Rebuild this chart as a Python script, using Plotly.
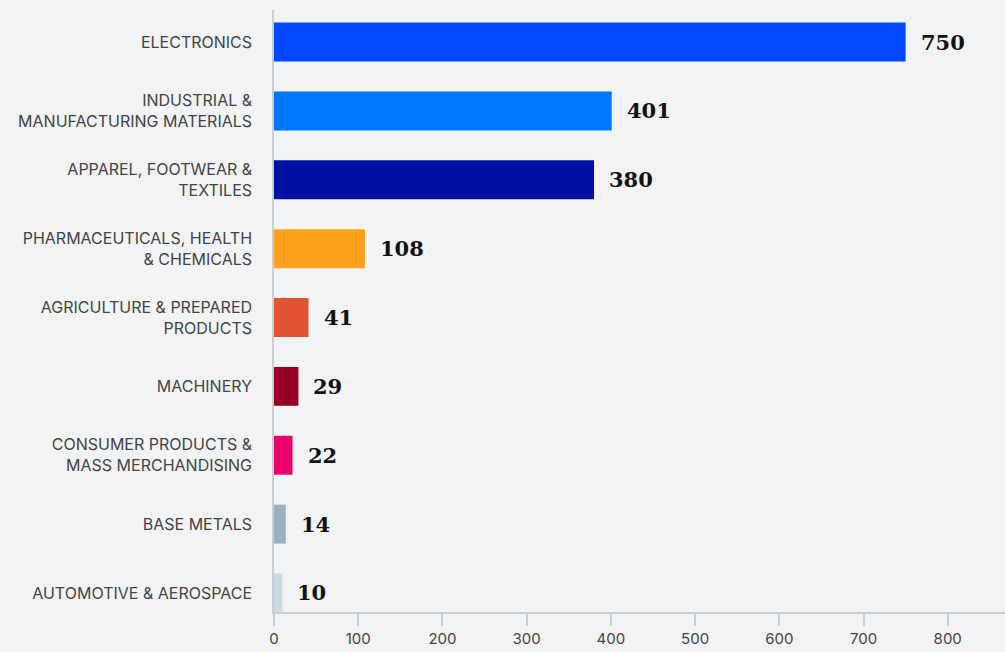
import plotly.graph_objects as go

categories = [
    "ELECTRONICS",
    "INDUSTRIAL &<br>MANUFACTURING MATERIALS",
    "APPAREL, FOOTWEAR &<br>TEXTILES",
    "PHARMACEUTICALS, HEALTH<br>& CHEMICALS",
    "AGRICULTURE & PREPARED<br>PRODUCTS",
    "MACHINERY",
    "CONSUMER PRODUCTS &<br>MASS MERCHANDISING",
    "BASE METALS",
    "AUTOMOTIVE & AEROSPACE",
]
values = [750, 401, 380, 108, 41, 29, 22, 14, 10]
colors = [
    "#0047FF", "#0077FF", "#0010A0", "#FFA01A", "#E05432",
    "#990026", "#E8056A", "#9DB0C0", "#CDD9E0",
]
x_ticks = [0, 100, 200, 300, 400, 500, 600, 700, 800]

BG = "#F2F3F5"
AXIS = "#C9CED3"
Y_FONT = dict(family="Inter, Open Sans, sans-serif", size=16, color="#444444")
X_FONT = dict(family="Inter, Open Sans, sans-serif", size=15, color="#444444")

fig = go.Figure(
    go.Bar(
        x=values,
        y=categories,
        orientation="h",
        marker=dict(color=colors, line=dict(width=0)),
        width=0.566,
        hoverinfo="x+y",
    )
)

# value labels to the right of each bar
for cat, val in zip(categories, values):
    fig.add_annotation(
        x=val, y=cat, text=f"<b>{val}</b>",
        xanchor="left", yanchor="middle", xshift=13, showarrow=False,
        font=dict(family="DejaVu Serif, serif", size=21, color="#111111"),
    )

fig.update_layout(
    width=1005, height=652,
    margin=dict(l=274, r=0, t=10, b=40),
    paper_bgcolor=BG, plot_bgcolor=BG,
    showlegend=False,
    bargap=0.4,
)
fig.update_xaxes(
    range=[0, 868],
    tickvals=x_ticks,
    showgrid=False, zeroline=False,
    showline=True, linecolor=AXIS, linewidth=1.5,
    ticks="outside", ticklen=12, tickcolor=AXIS, tickwidth=1.5,
    tickfont=X_FONT,
)
fig.update_yaxes(
    type="category",
    range=[8.276, -0.465],
    showgrid=False, zeroline=False,
    showline=True, linecolor=AXIS, linewidth=1.5,
    ticks="", ticklabelstandoff=17,
    tickfont=Y_FONT,
)

fig.write_html("out.html")
